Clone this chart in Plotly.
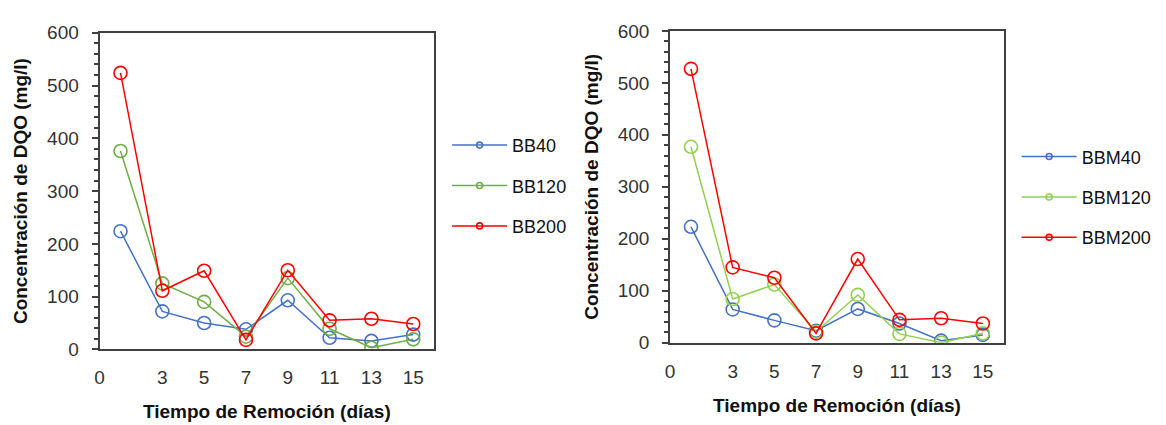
import plotly.graph_objects as go

dias = [1, 3, 5, 7, 9, 11, 13, 15]
x_ticks = [0, 3, 5, 7, 9, 11, 13, 15]

bb40 = [224, 72, 50, 38, 93, 22, 16, 28]
bb120 = [376, 125, 90, 24, 135, 39, 3, 19]
bb200 = [524, 111, 149, 18, 150, 55, 58, 48]

bbm40 = [223, 64, 43, 23, 65, 37, 4, 15]
bbm120 = [377, 84, 112, 21, 92, 17, 0, 18]
bbm200 = [527, 145, 125, 18, 161, 44, 47, 37]

BLUE = "#4472C4"
GREEN_L = "#70AD47"
GREEN_R = "#92D050"
RED = "#FF0000"
FONT = "Arial, Liberation Sans, sans-serif"

fig = go.Figure()

def add(series, name, color, xa, ya, legend):
    fig.add_trace(go.Scatter(
        x=dias, y=series, mode="lines+markers", name=name,
        line=dict(color=color, width=1.5),
        marker=dict(symbol="circle-open", size=13, color=color, line=dict(width=1.6)),
        xaxis=xa, yaxis=ya, showlegend=False))
    # legend entry with small marker
    fig.add_trace(go.Scatter(
        x=[None], y=[None], mode="lines+markers", name=name,
        line=dict(color=color, width=1.5),
        marker=dict(symbol="circle-open", size=6, color=color, line=dict(width=1.6)),
        xaxis=xa, yaxis=ya, legend=legend, legendgroup=name, showlegend=True))

add(bb40, "BB40", BLUE, "x", "y", "legend")
add(bb120, "BB120", GREEN_L, "x", "y", "legend")
add(bb200, "BB200", RED, "x", "y", "legend")
add(bbm40, "BBM40", BLUE, "x2", "y2", "legend2")
add(bbm120, "BBM120", GREEN_R, "x2", "y2", "legend2")
add(bbm200, "BBM200", RED, "x2", "y2", "legend2")

W, H = 1166, 425

def xaxis(dom, anchor):
    return dict(domain=dom, anchor=anchor, range=[0, 16], tickmode="array",
                tickvals=x_ticks, ticktext=[str(v) for v in x_ticks],
                showline=True, linecolor="#404040", linewidth=2, mirror=True,
                ticks="", showgrid=False, zeroline=False,
                tickfont=dict(family=FONT, size=19, color="#333333"),
                ticklabelstandoff=10,
                title=dict(text="Tiempo de Remoción (días)",
                           font=dict(family=FONT, size=19, color="#111111", weight="bold"),
                           standoff=18))

def yaxis(dom, anchor):
    return dict(domain=dom, anchor=anchor, range=[0, 600], dtick=100,
                showline=True, linecolor="#404040", linewidth=2, mirror=True,
                ticks="outside", ticklen=6, tickwidth=1.5, tickcolor="#404040",
                minor=dict(dtick=20, ticks="outside", ticklen=4, tickwidth=1.5,
                           tickcolor="#404040", showgrid=False),
                showgrid=False, zeroline=False,
                tickfont=dict(family=FONT, size=19, color="#333333"),
                ticklabelstandoff=9,
                title=dict(text="Concentración de DQO (mg/l)",
                           font=dict(family=FONT, size=19, color="#111111", weight="bold"),
                           standoff=14))

legend_common = dict(font=dict(family=FONT, size=18, color="#111111"),
                     bgcolor="rgba(0,0,0,0)", itemwidth=55, tracegroupgap=14,
                     xanchor="left", yanchor="top", traceorder="grouped")

fig.update_layout(
    width=W, height=H,
    margin=dict(l=0, r=0, t=0, b=0),
    paper_bgcolor="white", plot_bgcolor="white",
    xaxis=xaxis([95 / W, 431 / W], "y"),
    yaxis=yaxis([1 - 357 / H, 1 - 24 / H], "x"),
    xaxis2=xaxis([668 / W, 1003 / W], "y2"),
    yaxis2=yaxis([1 - 350 / H, 1 - 22 / H], "x2"),
    legend=dict(x=444 / W, y=1 - 123 / H, **legend_common),
    legend2=dict(x=1016 / W, y=1 - 135 / H, **legend_common),
)

fig.write_html("out.html")
